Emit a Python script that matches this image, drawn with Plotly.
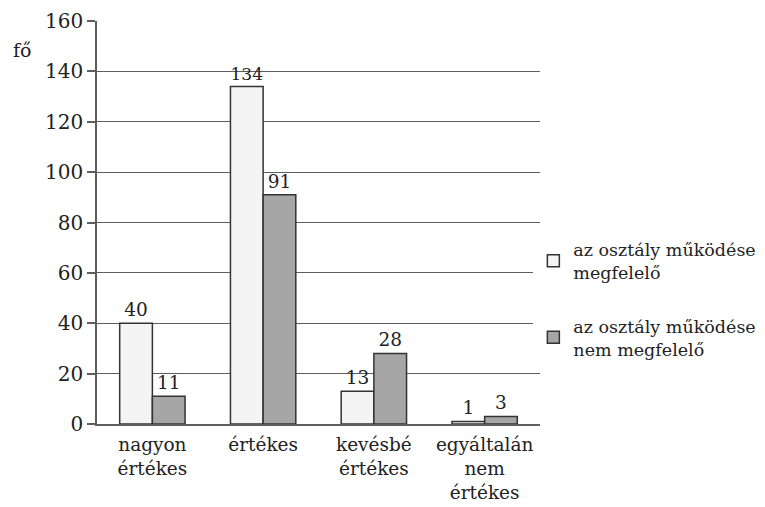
import plotly.graph_objects as go

categories = ["nagyon<br>értékes", "értékes", "kevésbé<br>értékes", "egyáltalán<br>nem<br>értékes"]
series_names = ["az osztály működése<br>megfelelő", "az osztály működése<br>nem megfelelő"]
values_ok = [40, 134, 13, 1]
values_not_ok = [11, 91, 28, 3]
y_ticks = [0, 20, 40, 60, 80, 100, 120, 140, 160]

FONT = "DejaVu Serif"

fig = go.Figure()
fig.add_trace(go.Bar(
    x=categories, y=values_ok, name=series_names[0], legendgroup="a",
    marker=dict(color="#f4f4f4", line=dict(color="#333333", width=1.5)),
    text=values_ok, textposition="outside", cliponaxis=False,
    textfont=dict(size=18.5, color="#222", family=FONT),
))
fig.add_trace(go.Bar(
    x=categories, y=values_not_ok, name=series_names[1], legendgroup="b",
    marker=dict(color="#a6a6a6", line=dict(color="#333333", width=1.5)),
    text=values_not_ok, textposition="outside", cliponaxis=False,
    textfont=dict(size=18.5, color="#222", family=FONT),
))

fig.update_layout(
    width=757, height=499,
    margin=dict(l=89, r=225, t=13, b=83, autoexpand=False),
    paper_bgcolor="white", plot_bgcolor="white",
    barmode="group", bargap=0.41, bargroupgap=0,
    font=dict(family=FONT, size=18, color="#222"),
    showlegend=True,
    legend=dict(
        x=0.985, y=0.31, xanchor="left", yanchor="middle",
        traceorder="grouped", tracegroupgap=28,
        font=dict(size=17.5, family=FONT, color="#222"),
        itemwidth=30,
    ),
)
fig.update_yaxes(
    range=[0, 160], tickvals=y_ticks, showgrid=True, gridcolor="#5e5e5e", gridwidth=1.3,
    showline=True, linecolor="#5e5e5e", linewidth=1.5,
    ticks="outside", ticklen=8, tickcolor="#5e5e5e", tickwidth=1.5,
    tickfont=dict(size=20, family=FONT, color="#222"), zeroline=False, automargin=False,
)
fig.update_xaxes(
    showline=True, linecolor="#5e5e5e", linewidth=1.5,
    ticks="", ticklabelstandoff=3,
    tickfont=dict(size=18.5, family=FONT, color="#222"), automargin=False,
)
fig.add_annotation(
    text="fő", xref="paper", yref="paper", x=-0.17, y=0.928,
    xanchor="center", yanchor="middle", showarrow=False,
    font=dict(size=19, family=FONT, color="#222"),
)

fig.write_html("out.html")
